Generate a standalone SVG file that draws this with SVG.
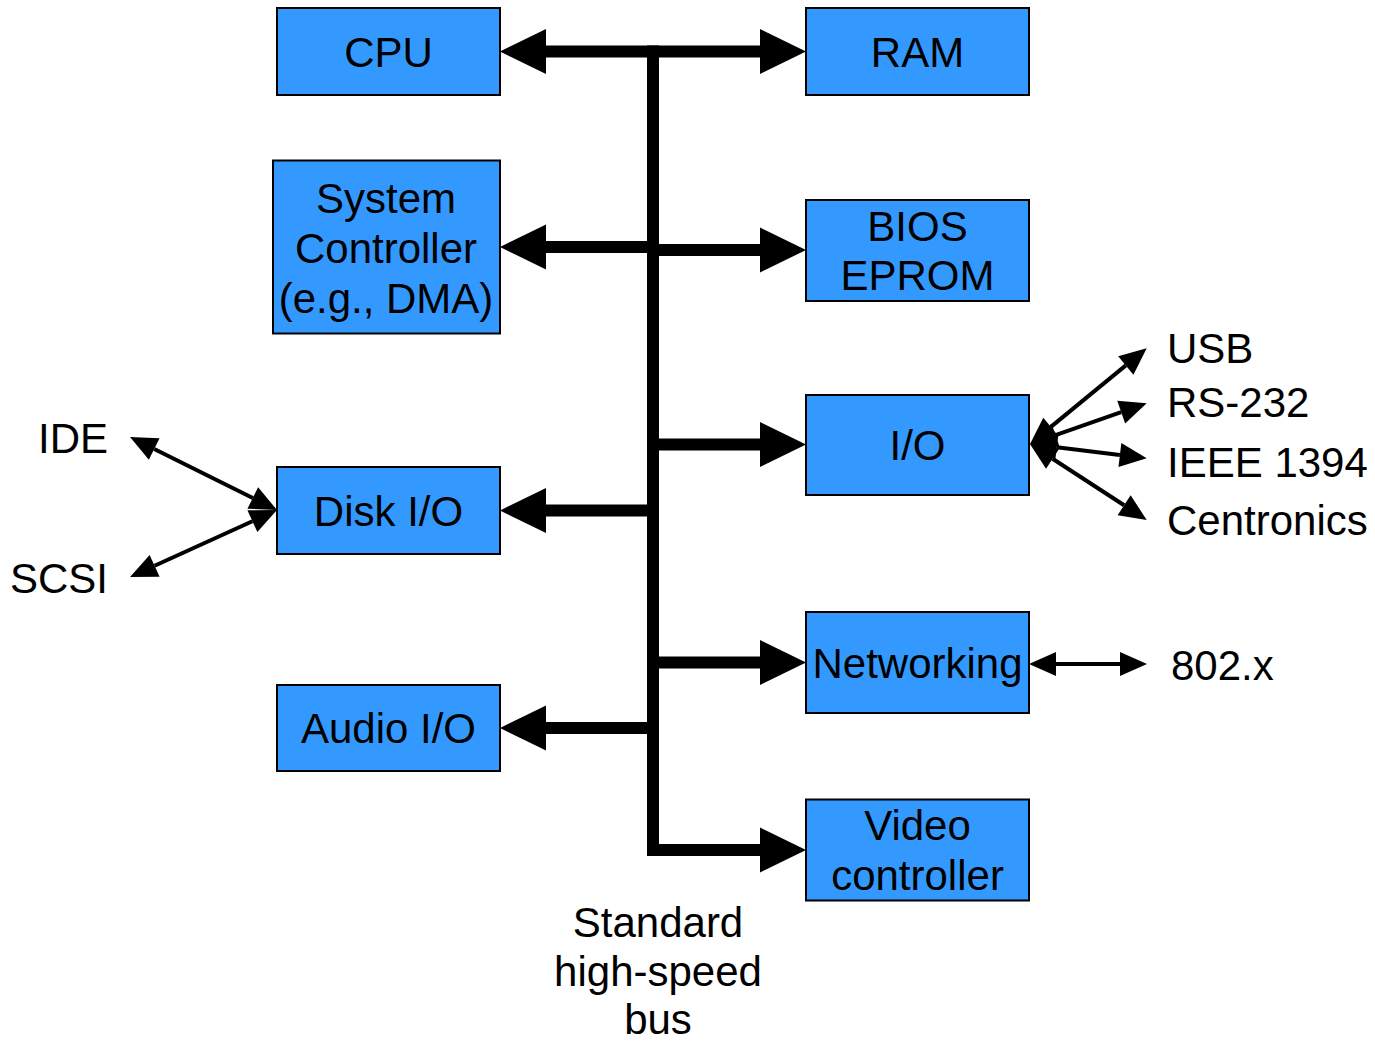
<svg xmlns="http://www.w3.org/2000/svg" width="1375" height="1044" viewBox="0 0 1375 1044">
<style>
.box{fill:#3399FF;stroke:#000;stroke-width:2}
text{font-family:"Liberation Sans",Arial,sans-serif;font-size:42px;fill:#000}
.c{text-anchor:middle}
.bus{fill:none;stroke:#000;stroke-width:12;stroke-linejoin:miter}
.thin{fill:none;stroke:#000;stroke-width:4}
</style>
<defs>
<marker id="big" markerUnits="userSpaceOnUse" markerWidth="46" markerHeight="45" viewBox="0 0 46 45" refX="0" refY="22.5" orient="auto-start-reverse" overflow="visible">
<path d="M0,0 L46,22.5 L0,45 Z" fill="#000"/>
</marker>
<marker id="sm" markerUnits="userSpaceOnUse" markerWidth="27" markerHeight="24" viewBox="0 0 27 24" refX="0" refY="12" orient="auto-start-reverse" overflow="visible">
<path d="M0,0 L27,12 L0,24 Z" fill="#000"/>
</marker>
</defs>
<rect width="1375" height="1044" fill="#fff"/>
<g id="connectors">
<path class="bus" d="M653,45.5 V850 H760" marker-end="url(#big)"/>
<line class="bus" x1="546" y1="51.5" x2="760" y2="51.5" marker-start="url(#big)" marker-end="url(#big)"/>
<line class="bus" x1="546" y1="247" x2="653" y2="247" marker-start="url(#big)"/>
<line class="bus" x1="653" y1="250" x2="760" y2="250" marker-end="url(#big)"/>
<line class="bus" x1="653" y1="444.5" x2="760" y2="444.5" marker-end="url(#big)"/>
<line class="bus" x1="546" y1="510.5" x2="653" y2="510.5" marker-start="url(#big)"/>
<line class="bus" x1="653" y1="662.5" x2="760" y2="662.5" marker-end="url(#big)"/>
<line class="bus" x1="546" y1="728" x2="653" y2="728" marker-start="url(#big)"/>
<line class="thin" x1="1050.9" y1="426.9" x2="1125.8" y2="365.4" marker-start="url(#sm)" marker-end="url(#sm)"/>
<line class="thin" x1="1055.5" y1="435.1" x2="1121.2" y2="412.2" marker-start="url(#sm)" marker-end="url(#sm)"/>
<line class="thin" x1="1056.8" y1="447.3" x2="1119.9" y2="455" marker-start="url(#sm)" marker-end="url(#sm)"/>
<line class="thin" x1="1052.6" y1="458.7" x2="1124.1" y2="505.3" marker-start="url(#sm)" marker-end="url(#sm)"/>
<line class="thin" x1="1056" y1="664" x2="1120" y2="664" marker-start="url(#sm)" marker-end="url(#sm)"/>
<line class="thin" x1="154.2" y1="449" x2="252.8" y2="498" marker-start="url(#sm)" marker-end="url(#sm)"/>
<line class="thin" x1="252.4" y1="521.2" x2="154.6" y2="565.8" marker-start="url(#sm)" marker-end="url(#sm)"/>
</g>
<g id="cpu"><rect class="box" x="277" y="8" width="223" height="87"/><text class="c" x="388.5" y="67">CPU</text></g>
<g id="ram"><rect class="box" x="806" y="8" width="223" height="87"/><text class="c" x="917.5" y="67">RAM</text></g>
<g id="sysctrl"><rect class="box" x="273" y="160.5" width="227" height="173"/><text class="c" x="386" y="213">System</text><text class="c" x="386" y="263">Controller</text><text class="c" x="386" y="313">(e.g., DMA)</text></g>
<g id="bios"><rect class="box" x="806" y="200" width="223" height="101"/><text class="c" x="917.5" y="241">BIOS</text><text class="c" x="917.5" y="290">EPROM</text></g>
<g id="io"><rect class="box" x="806" y="395" width="223" height="100"/><text class="c" x="917.5" y="460">I/O</text></g>
<g id="disk"><rect class="box" x="277" y="467" width="223" height="87"/><text class="c" x="388.5" y="526">Disk I/O</text></g>
<g id="net"><rect class="box" x="806" y="612" width="223" height="101"/><text class="c" x="917.5" y="678">Networking</text></g>
<g id="audio"><rect class="box" x="277" y="685" width="223" height="86"/><text class="c" x="388.5" y="743">Audio I/O</text></g>
<g id="video"><rect class="box" x="806" y="799.5" width="223" height="101"/><text class="c" x="917.5" y="840">Video</text><text class="c" x="917.5" y="890">controller</text></g>
<g id="labels">
<text x="1167" y="363">USB</text>
<text x="1167" y="417">RS-232</text>
<text x="1167" y="477">IEEE 1394</text>
<text x="1167" y="535">Centronics</text>
<text x="1171" y="680">802.x</text>
<text x="108" y="453" text-anchor="end">IDE</text>
<text x="108" y="593" text-anchor="end">SCSI</text>
<text class="c" x="658" y="937">Standard</text>
<text class="c" x="658" y="986">high-speed</text>
<text class="c" x="658" y="1034">bus</text>
</g>
</svg>
